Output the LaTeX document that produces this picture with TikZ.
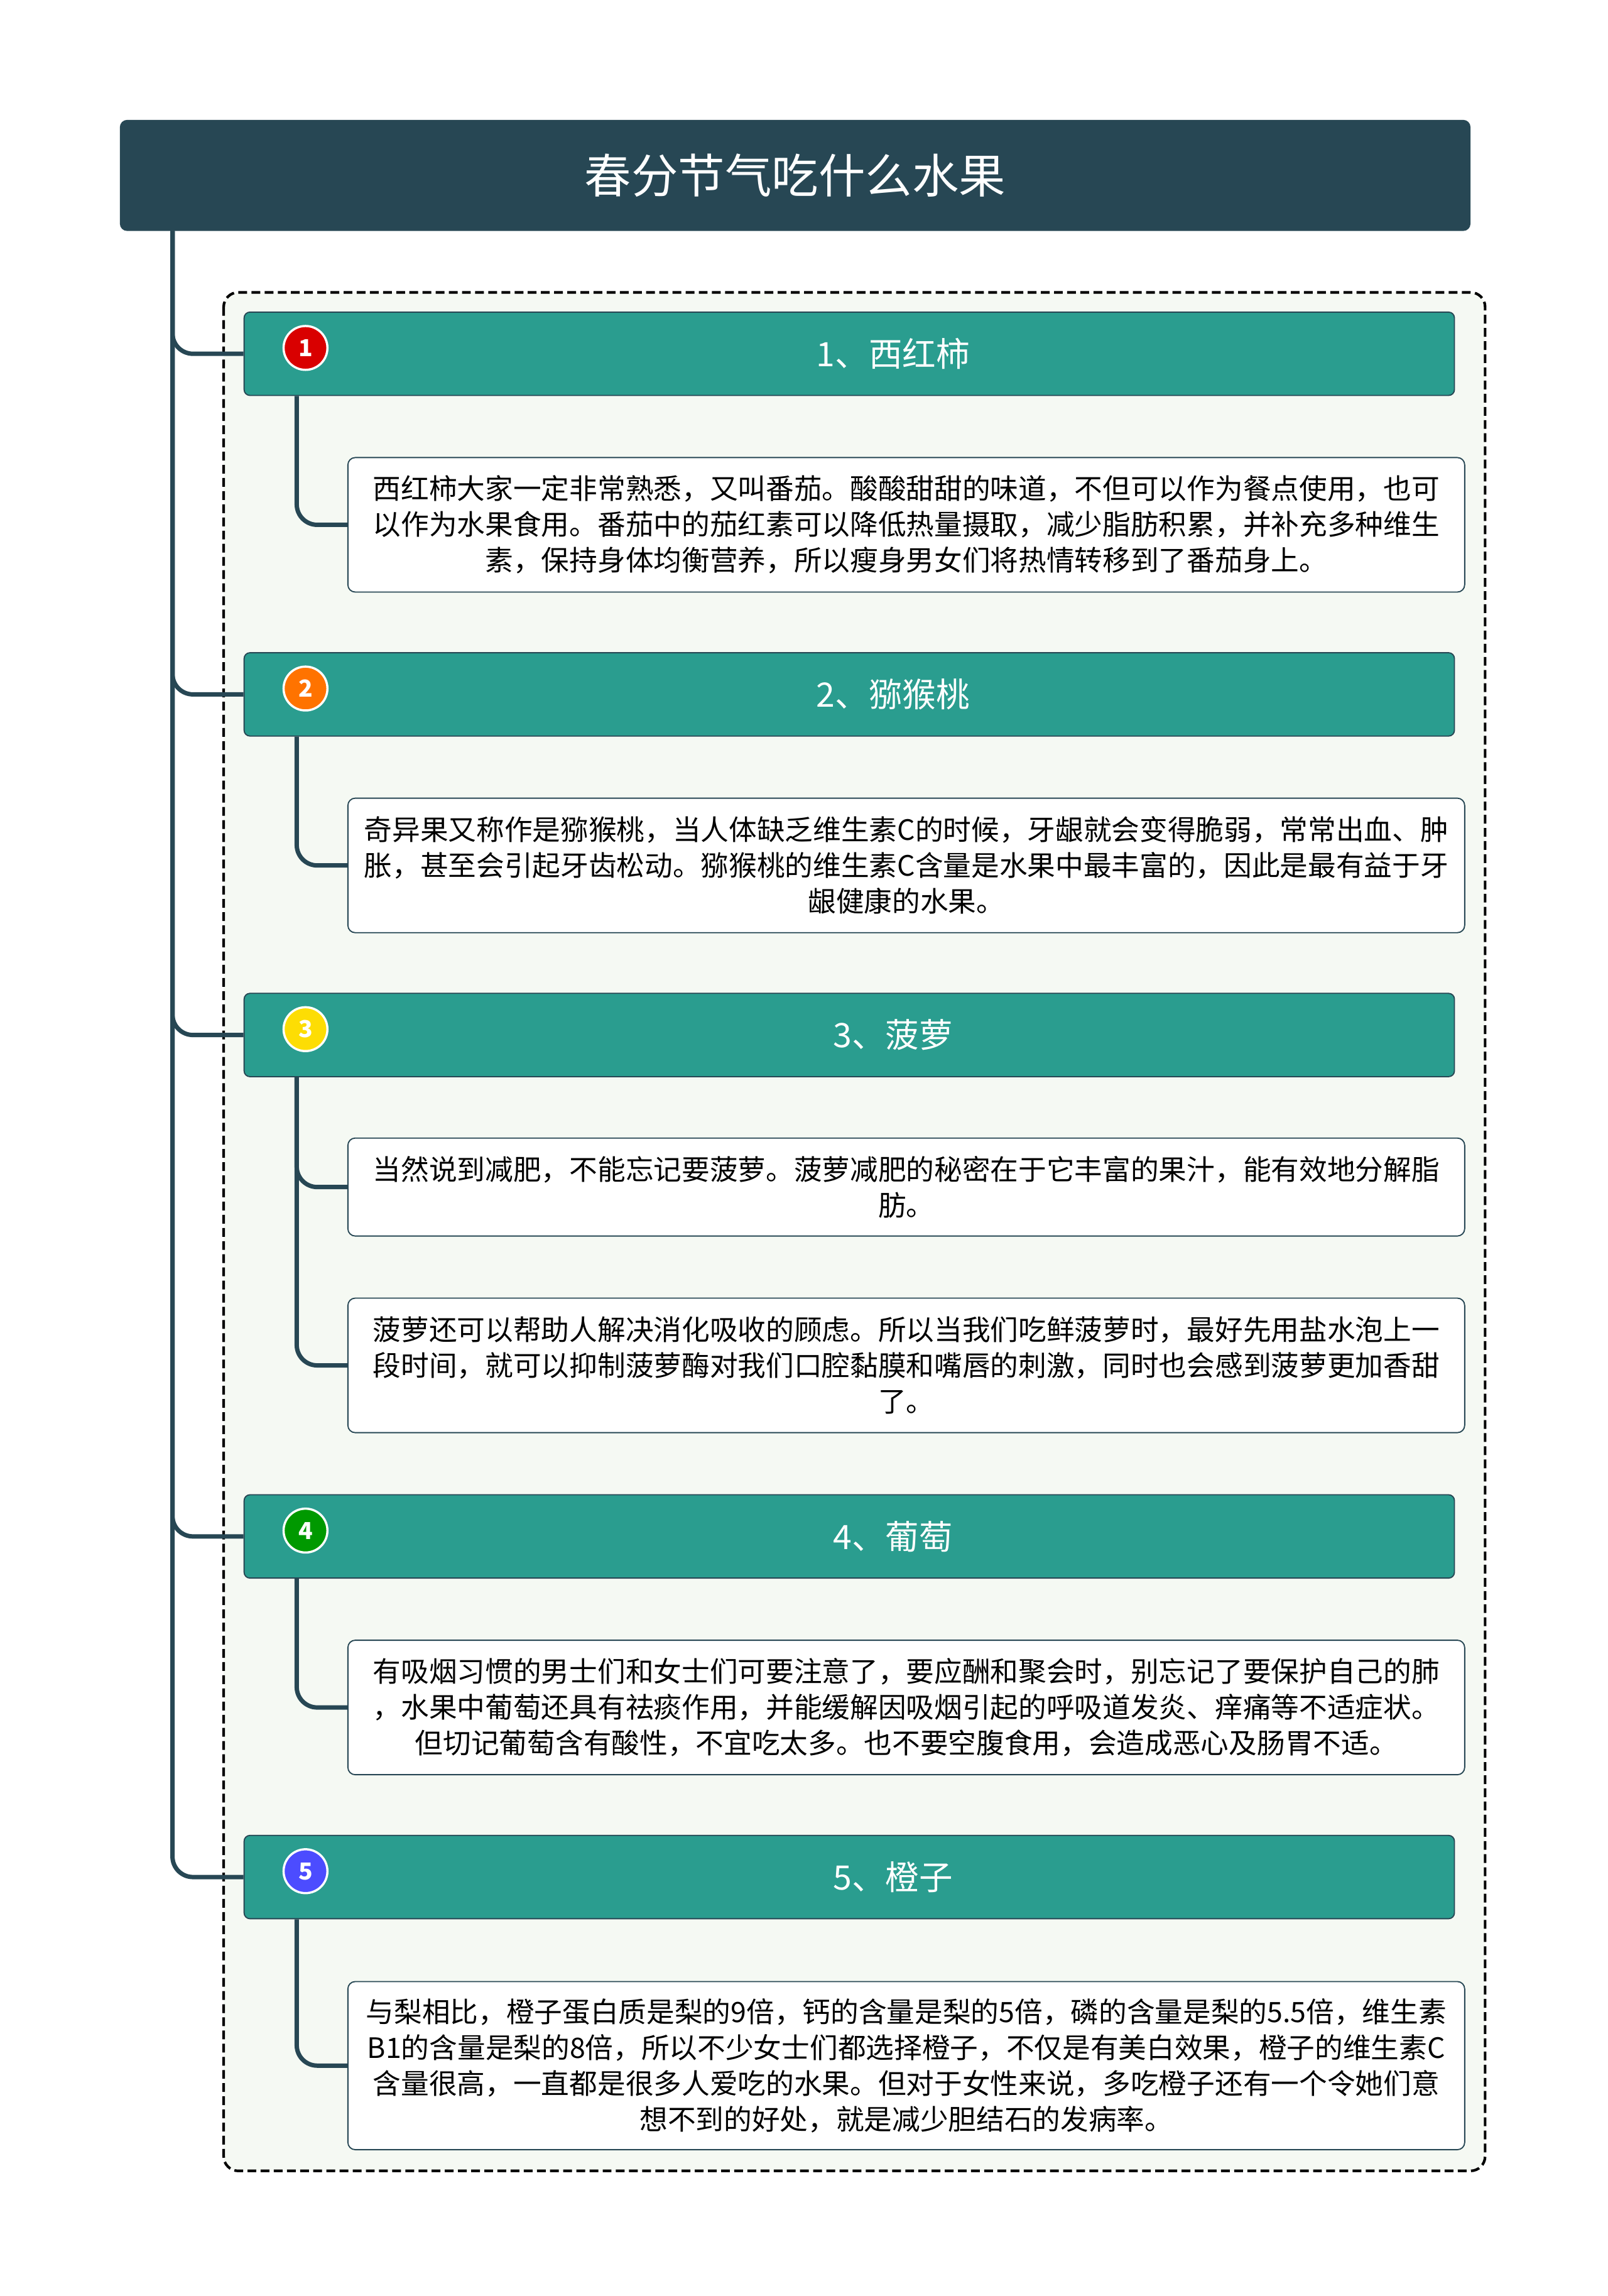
\documentclass[tikz,border=0pt]{standalone}
\usepackage{fontspec}
\setmainfont{Noto Sans CJK SC}
\definecolor{dark}{HTML}{274754}
\definecolor{teal}{HTML}{2A9D8F}
\definecolor{bg}{HTML}{F5F9F3}
\begin{document}
\begin{tikzpicture}[x=1pt,y=-1pt,
 title/.style={fill=dark,rounded corners=5,minimum width=924,minimum height=76,text=white,font=\fontsize{32}{36}\selectfont},
 head/.style={fill=teal,draw=dark,line width=0.8,rounded corners=4,minimum width=828,minimum height=57,text=white,font=\fontsize{23}{28}\selectfont},
 leaf/.style={fill=white,draw=dark,line width=0.8,rounded corners=5,minimum width=764,align=center,font=\fontsize{19.2}{24.5}\selectfont,inner sep=0},
 conn/.style={draw=dark,line width=3,rounded corners=14},
 num/.style={circle,draw=white,line width=1.5,minimum size=30,inner sep=0,text=white,font=\fontsize{16}{16}\selectfont\bfseries}]
\useasboundingbox (0,0) rectangle (1100,1570.6);
\fill[white] (0,0) rectangle (1100,1570.6);
\draw[dash pattern=on 6pt off 3pt,line width=1.8,fill=bg,rounded corners=10] (153,200) rectangle (1016,1485);
\node[title] (t) at (544,120) {春分节气吃什么水果};
\coordinate (tr) at (118,158);
\foreach \i/\y/\txt/\c in {1/242/1、西红柿/red!85!black,2/475/2、猕猴桃/orange!90!red,3/708/3、菠萝/yellow!80!orange,4/1051/4、葡萄/green!60!black,5/1284/5、橙子/blue!70!white}{
 \node[head] (h\i) at (581,\y) {};
 \node[text=white,font=\fontsize{23}{28}\selectfont] (ht\i) at (611,\y) {\txt};
 \draw[conn] (tr) |- (h\i.west);
 \node[num,fill=\c] (n\i) at (209,\y-4) {\i};
}
\node[leaf,minimum height=92] (l1) at (620,359) {西红柿大家一定非常熟悉，又叫番茄。酸酸甜甜的味道，不但可以作为餐点使用，也可\\以作为水果食用。番茄中的茄红素可以降低热量摄取，减少脂肪积累，并补充多种维生\\素，保持身体均衡营养，所以瘦身男女们将热情转移到了番茄身上。};
\node[leaf,minimum height=92] (l2) at (620,592) {奇异果又称作是猕猴桃，当人体缺乏维生素C的时候，牙龈就会变得脆弱，常常出血、肿\\胀，甚至会引起牙齿松动。猕猴桃的维生素C含量是水果中最丰富的，因此是最有益于牙\\龈健康的水果。};
\node[leaf,minimum height=67] (l3a) at (620,812) {当然说到减肥，不能忘记要菠萝。菠萝减肥的秘密在于它丰富的果汁，能有效地分解脂\\肪。};
\node[leaf,minimum height=92] (l3b) at (620,934) {菠萝还可以帮助人解决消化吸收的顾虑。所以当我们吃鲜菠萝时，最好先用盐水泡上一\\段时间，就可以抑制菠萝酶对我们口腔黏膜和嘴唇的刺激，同时也会感到菠萝更加香甜\\了。};
\node[leaf,minimum height=92] (l4) at (620,1168) {有吸烟习惯的男士们和女士们可要注意了，要应酬和聚会时，别忘记了要保护自己的肺\\，水果中葡萄还具有祛痰作用，并能缓解因吸烟引起的呼吸道发炎、痒痛等不适症状。\\但切记葡萄含有酸性，不宜吃太多。也不要空腹食用，会造成恶心及肠胃不适。};
\node[leaf,minimum height=115] (l5) at (620,1413) {与梨相比，橙子蛋白质是梨的9倍，钙的含量是梨的5倍，磷的含量是梨的5.5倍，维生素\\B1的含量是梨的8倍，所以不少女士们都选择橙子，不仅是有美白效果，橙子的维生素C\\含量很高，一直都是很多人爱吃的水果。但对于女性来说，多吃橙子还有一个令她们意\\想不到的好处，就是减少胆结石的发病率。};
\foreach \h/\l in {h1/l1,h2/l2,h3/l3a,h3/l3b,h4/l4,h5/l5}{
 \draw[conn] (\h.south west -| 203,0) |- (\l.west);
}
\end{tikzpicture}
\end{document}
